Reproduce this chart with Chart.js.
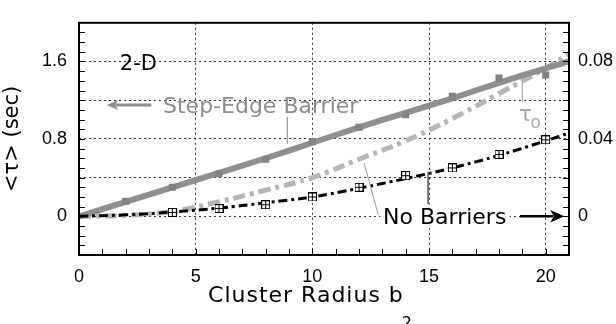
<!DOCTYPE html>
<html>
<head>
<meta charset="utf-8">
<script src="https://cdn.jsdelivr.net/npm/chart.js@4.4.0/dist/chart.umd.min.js"></script>
<style>
body { margin: 0; background: #fff; }
#wrap { width: 616px; height: 324px; }
</style>
</head>
<body>
<div id="wrap"><canvas id="radiusChart" width="616" height="324"></canvas></div>
<script>
// fitted curves
const radius = [0, 2, 4, 6, 8, 10, 12, 14, 16, 18, 20, 21];
const stepEdgeFit = [0, 0.15, 0.30, 0.45, 0.60, 0.76, 0.92, 1.07, 1.22, 1.38, 1.53, 1.60];
const tauZero = [0, 0.01, 0.05, 0.15, 0.27, 0.40, 0.59, 0.78, 1.01, 1.27, 1.53, 1.68];
const noBarrierFit = [0, 0.015, 0.045, 0.085, 0.14, 0.20, 0.29, 0.39, 0.50, 0.63, 0.78, 0.86];

// measured points
const stepEdgeRadius = [2, 4, 6, 8, 10, 12, 14, 16, 18, 20];
const stepEdgeMarks = [0.155, 0.30, 0.44, 0.59, 0.77, 0.92, 1.05, 1.24, 1.43, 1.46];
const noBarrierRadius = [4, 6, 8, 10, 12, 14, 16, 18, 20];
const noBarrierMarks = [0.04, 0.08, 0.12, 0.20, 0.30, 0.42, 0.50, 0.64, 0.79];

const leftLabels = [0, 0.8, 1.6];
const rightLabels = [0, 0.04, 0.08];

const pairs = (xs, ys) => xs.map((v, i) => ({ x: v, y: ys[i] }));

// square with a cross inside
function boxCross(size) {
  const c = document.createElement('canvas');
  c.width = size;
  c.height = size;
  const g = c.getContext('2d');
  g.fillStyle = '#fff';
  g.fillRect(0, 0, size, size);
  g.strokeStyle = '#000';
  g.lineWidth = 1;
  g.strokeRect(0.5, 0.5, size - 1, size - 1);
  g.beginPath();
  g.moveTo(size / 2, 0); g.lineTo(size / 2, size);
  g.moveTo(0, size / 2); g.lineTo(size, size / 2);
  g.stroke();
  return c;
}

const FONT = '"DejaVu Sans", sans-serif';
const TICKFONT = '"Liberation Sans", Arial, sans-serif';

function arrow(ctx, x1, y1, x2, y2, color, w, head) {
  const ang = Math.atan2(y2 - y1, x2 - x1);
  const c = Math.cos(ang), s = Math.sin(ang);
  ctx.strokeStyle = color;
  ctx.fillStyle = color;
  ctx.lineWidth = w;
  ctx.beginPath();
  ctx.moveTo(x1, y1);
  ctx.lineTo(x2 - c * head * 0.8, y2 - s * head * 0.8);
  ctx.stroke();
  ctx.beginPath();
  ctx.moveTo(x2, y2);
  ctx.lineTo(x2 - head * c + head * 0.45 * s, y2 - head * s - head * 0.45 * c);
  ctx.lineTo(x2 - head * 0.75 * c, y2 - head * 0.75 * s);
  ctx.lineTo(x2 - head * c - head * 0.45 * s, y2 - head * s + head * 0.45 * c);
  ctx.closePath();
  ctx.fill();
}

const decorations = {
  id: 'decorations',
  afterDatasetsDraw(chart) {
    const { ctx, chartArea: a, scales } = chart;
    const x = scales.x, y = scales.y;
    const px = v => x.getPixelForValue(v);
    const py = v => y.getPixelForValue(v);
    ctx.save();

    // inner ticks
    ctx.strokeStyle = '#000';
    ctx.lineWidth = 1;
    ctx.beginPath();
    for (let v = 1; v < 21; v++) {
      const xx = Math.round(px(v)) + 0.5;
      ctx.moveTo(xx, a.bottom); ctx.lineTo(xx, a.bottom - 6);
    }
    for (let k = -3; k < 20; k++) {
      const yy = Math.round(py(k / 10)) + 0.5;
      ctx.moveTo(a.left, yy); ctx.lineTo(a.left + 6, yy);
      ctx.moveTo(a.right, yy); ctx.lineTo(a.right - 6, yy);
    }
    ctx.stroke();

    // frame
    ctx.lineWidth = 2;
    ctx.strokeRect(a.left, a.top, a.right - a.left, a.bottom - a.top);

    ctx.textBaseline = 'alphabetic';
    ctx.textAlign = 'left';

    // 2-D
    ctx.fillStyle = '#000';
    ctx.font = '21px ' + FONT;
    ctx.fillText('2-D', px(1.75), py(1.6) + 8);

    // Step-Edge Barrier
    ctx.fillStyle = '#8d8d8d';
    ctx.font = '22px ' + FONT;
    ctx.fillText('Step-Edge Barrier', px(3.6), py(1.155) + 8);
    arrow(ctx, px(3.1), py(1.15), px(1.2), py(1.15), '#8d8d8d', 3, 11);
    ctx.strokeStyle = '#9a9a9a';
    ctx.lineWidth = 1.2;
    ctx.beginPath();
    ctx.moveTo(px(8.93), py(1.03)); ctx.lineTo(px(8.93), py(0.75));
    ctx.stroke();

    // tau_o
    ctx.fillStyle = '#ababab';
    ctx.font = '22px ' + FONT;
    ctx.fillText('τ', px(18.85), py(0.99));
    ctx.font = '17px ' + FONT;
    ctx.fillText('o', px(19.35), py(0.91));
    ctx.strokeStyle = '#b0b0b0';
    ctx.beginPath();
    ctx.moveTo(px(19.0), py(1.38)); ctx.lineTo(px(19.0), py(1.18));
    ctx.stroke();

    // pointers from No Barriers
    ctx.strokeStyle = '#9a9a9a';
    ctx.lineWidth = 1;
    ctx.beginPath();
    ctx.moveTo(px(12.22), py(0.55)); ctx.lineTo(px(12.82), py(0.02));
    ctx.stroke();
    ctx.strokeStyle = '#000';
    ctx.beginPath();
    ctx.moveTo(px(14.96), py(0.46)); ctx.lineTo(px(14.96), py(0.09));
    ctx.stroke();

    // No Barriers
    ctx.fillStyle = '#fff';
    ctx.font = '22px ' + FONT;
    const nbw = ctx.measureText('No Barriers').width;
    ctx.fillRect(px(13.0) - 2, py(0) - 12, nbw + 6, 24);
    ctx.fillStyle = '#000';
    ctx.fillText('No Barriers', px(13.03), py(0) + 8);
    arrow(ctx, px(18.9), py(0), px(20.8), py(0), '#000', 2.5, 14);

    // x title with subscript
    ctx.font = '22px ' + FONT;
    ctx.letterSpacing = '1px';
    const t = 'Cluster Radius b';
    const tw = ctx.measureText(t).width;
    const tx = px(5.53);
    ctx.fillText(t, tx, 302);
    ctx.letterSpacing = '0px';
    ctx.font = '16px ' + FONT;
    ctx.fillText('2', tx + tw - 2, 328);

    ctx.restore();
  }
};

const gridColor = (lo, hi) => c => (Math.abs(c.tick.value - lo) < 1e-6 || Math.abs(c.tick.value - hi) < 1e-6) ? 'rgba(0,0,0,0)' : '#333';

const ctx = document.getElementById('radiusChart').getContext('2d');

const radiusChart = new Chart(ctx, {
  type: 'line',
  data: {
    datasets: [
      {
        label: 'Step-Edge Barrier fit',
        data: pairs(radius, stepEdgeFit),
        borderColor: '#8f8f8f',
        borderWidth: 6,
        pointRadius: 0,
        tension: 0.3,
        fill: false,
        order: 3
      },
      {
        label: 'Step-Edge Barrier',
        data: pairs(stepEdgeRadius, stepEdgeMarks),
        showLine: false,
        pointStyle: 'rect',
        pointRadius: 5,
        backgroundColor: '#828282',
        borderColor: '#828282',
        borderWidth: 0,
        order: 2
      },
      {
        label: 'tau o',
        data: pairs(radius, tauZero),
        borderColor: '#b6b6b6',
        borderWidth: 5,
        borderDash: [12, 5, 4, 5],
        pointRadius: 0,
        tension: 0.4,
        fill: false,
        order: 4
      },
      {
        label: 'No Barriers fit',
        data: pairs(radius, noBarrierFit),
        borderColor: '#000',
        borderWidth: 3,
        borderDash: [9, 4, 3, 4],
        pointRadius: 0,
        tension: 0.4,
        fill: false,
        order: 1
      },
      {
        label: 'No Barriers',
        data: pairs(noBarrierRadius, noBarrierMarks),
        showLine: false,
        pointStyle: boxCross(9),
        pointRadius: 5,
        order: 0
      }
    ]
  },
  options: {
    responsive: false,
    animation: false,
    layout: { padding: { top: 9, right: 0, bottom: 0, left: 0 } },
    scales: {
      x: {
        type: 'linear',
        min: 0,
        max: 21,
        afterFit: s => { s.height = 69; },
        ticks: {
          stepSize: 5,
          includeBounds: false,
          padding: 11,
          color: '#000',
          font: { family: TICKFONT, size: 18 },
          callback: v => String(v)
        },
        grid: { color: gridColor(0, 21), lineWidth: 1, drawTicks: false },
        border: { display: false, dash: [2, 3] }
      },
      y: {
        min: -0.4,
        max: 2.0,
        afterFit: s => { s.width = 79; },
        ticks: {
          stepSize: 0.4,
          padding: 12,
          color: '#000',
          font: { family: TICKFONT, size: 18 },
          callback: v => {
            const hit = leftLabels.find(l => Math.abs(l - v) < 1e-6);
            return hit === undefined ? '' : String(hit);
          }
        },
        grid: { color: gridColor(-0.4, 2.0), lineWidth: 1, drawTicks: false },
        border: { display: false, dash: [2, 3] },
        title: {
          display: true,
          text: '<τ> (sec)',
          color: '#000',
          font: { family: FONT, size: 21 },
          padding: { top: 0, bottom: 0 }
        }
      },
      y2: {
        position: 'right',
        min: -0.02,
        max: 0.10,
        afterFit: s => { s.width = 47; },
        ticks: {
          stepSize: 0.02,
          padding: 9,
          color: '#000',
          font: { family: TICKFONT, size: 18 },
          callback: v => {
            const hit = rightLabels.find(l => Math.abs(l - v) < 1e-6);
            return hit === undefined ? '' : String(hit);
          }
        },
        grid: { display: false, drawTicks: false },
        border: { display: false }
      }
    },
    plugins: {
      legend: { display: false },
      tooltip: { enabled: false }
    }
  },
  plugins: [decorations]
});
</script>
</body>
</html>
